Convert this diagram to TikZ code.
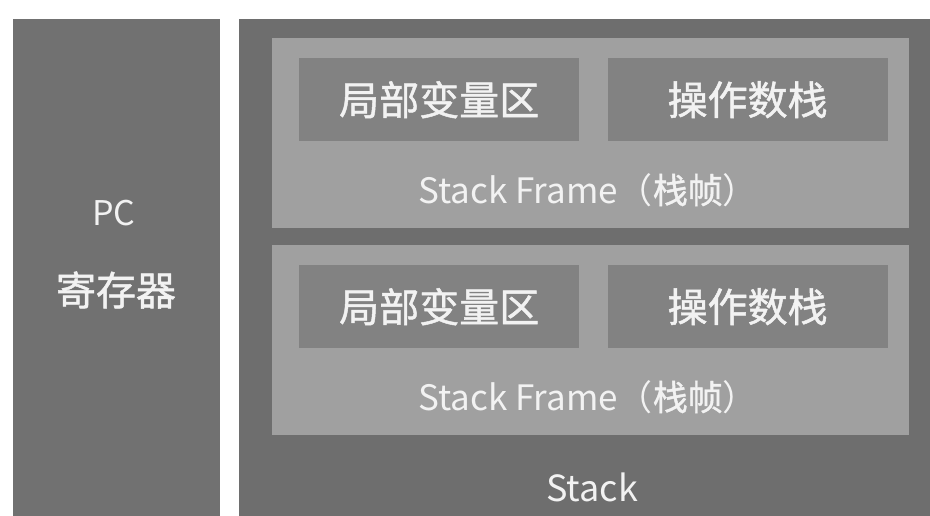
\documentclass[tikz,border=0pt]{standalone}
\usepackage{fontspec}
\setmainfont{Noto Sans CJK SC}
\newfontfamily\cjkmed[FakeBold=1.2]{Noto Sans CJK SC}
\usetikzlibrary{positioning}

\begin{document}
\begin{tikzpicture}
    [
      x=1pt, y=-1pt,
      box/.style={fill=#1, inner sep=0pt, anchor=north west},
      part/.style={box=partgray, minimum width=280pt, minimum height=83pt, text=txt, font=\fontsize{40}{44}\cjkmed},
      txt label/.style={text=txt, inner sep=0pt, font=\fontsize{#1}{#1}\selectfont}
    ]
    \definecolor{pcgray}{HTML}{717171}
    \definecolor{stackgray}{HTML}{6E6E6E}
    \definecolor{framegray}{HTML}{A0A0A0}
    \definecolor{partgray}{HTML}{828282}
    \definecolor{txt}{HTML}{F2F2F2}
    \useasboundingbox [fill=white] (0,0) rectangle (930,516);
    \node (pc) [box=pcgray, minimum width=207pt, minimum height=497pt] at (13,19) {};
    \node (stack) [box=stackgray, minimum width=691pt, minimum height=497pt] at (239,19) {};
    \node (pcname) [txt label=34] at (114,213) {PC};
    \node (reg) [txt label=40] at (116,290) {\cjkmed 寄存器};
    \foreach \i/\y in {1/38,2/245} {
      \node (frame\i) [box=framegray, minimum width=637pt, minimum height=190pt] at (272,\y) {};
      \node (local\i) [part] at (299,\y+20) {局部变量区};
      \node (opstack\i) [part, right=28pt of local\i.north east, anchor=north west] {操作数栈};
      \node (flabel\i) [txt label=35] at (588,\y+152) {Stack Frame（{\cjkmed 栈帧}）};
    }
    \node (stacklabel) [txt label=36] at (592,487) {Stack};
\end{tikzpicture}
\end{document}
